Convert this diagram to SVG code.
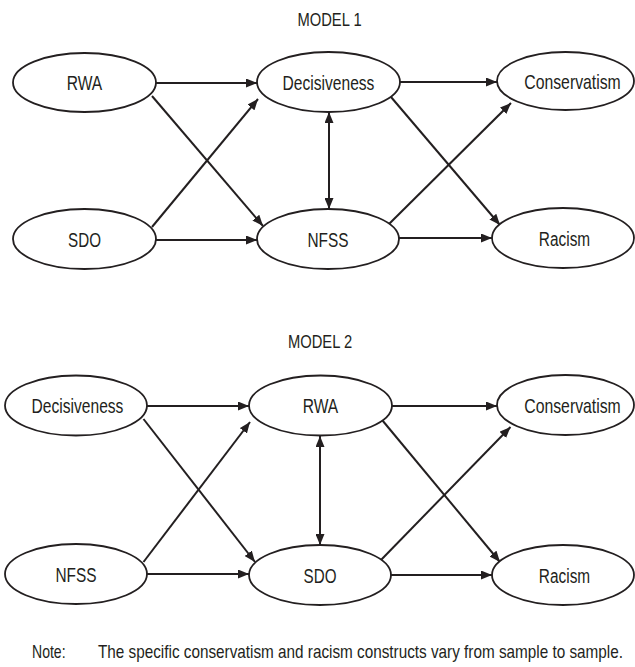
<svg xmlns="http://www.w3.org/2000/svg" width="635" height="667" viewBox="0 0 635 667">
<style>
.n ellipse{fill:#fff;stroke:#231f20;stroke-width:1.8}
text{font-family:"Liberation Sans",Arial,sans-serif;font-size:18px;fill:#231f20}
.n text{text-anchor:middle;font-size:20px}
.t{text-anchor:middle}
.c line{stroke:#231f20;stroke-width:2;marker-end:url(#ah)}
.c line.b{marker-start:url(#ah)}
</style>
<defs>
<marker id="ah" markerUnits="userSpaceOnUse" markerWidth="11" markerHeight="9" refX="11" refY="4.5" orient="auto-start-reverse" viewBox="0 0 11 9">
<path d="M0,0 L11,4.5 L0,9 z" fill="#231f20"/>
</marker>
</defs>
<rect width="635" height="667" fill="#fff"/>
<text class="t" transform="translate(329.5,26) scale(0.82,1)">MODEL 1</text>
<text class="t" transform="translate(320,348) scale(0.82,1)">MODEL 2</text>
<g class="c" id="connectors1">
<line x1="156" y1="83" x2="257" y2="83"/>
<line x1="400" y1="82" x2="497" y2="82"/>
<line x1="156" y1="240" x2="257" y2="240"/>
<line x1="399" y1="238" x2="492" y2="238"/>
<line x1="152" y1="96" x2="263" y2="226"/>
<line x1="152" y1="227" x2="258" y2="99"/>
<line x1="391" y1="97" x2="500" y2="225"/>
<line x1="388" y1="225" x2="511" y2="103"/>
<line class="b" x1="329" y1="112" x2="329" y2="209"/>
</g>
<g class="c" id="connectors2">
<line x1="147" y1="406" x2="249" y2="406"/>
<line x1="392" y1="406" x2="497" y2="406"/>
<line x1="147" y1="574" x2="249" y2="574"/>
<line x1="391" y1="575" x2="492" y2="575"/>
<line x1="143.5" y1="419" x2="255" y2="562"/>
<line x1="143.5" y1="562" x2="250" y2="422"/>
<line x1="382.5" y1="420.5" x2="500" y2="562"/>
<line x1="380" y1="561" x2="510.5" y2="427"/>
<line class="b" x1="320" y1="436" x2="320" y2="545"/>
</g>
<g class="n" id="m1-rwa"><ellipse cx="84.5" cy="82.5" rx="71.5" ry="29.5"/><text transform="translate(84.5,90) scale(0.78,1)">RWA</text></g>
<g class="n" id="m1-decisiveness"><ellipse cx="328.5" cy="82" rx="71.5" ry="30"/><text transform="translate(328.5,89.5) scale(0.78,1)">Decisiveness</text></g>
<g class="n" id="m1-conservatism"><ellipse cx="565.5" cy="81" rx="68.5" ry="29"/><text transform="translate(572.5,88.5) scale(0.79,1)">Conservatism</text></g>
<g class="n" id="m1-sdo"><ellipse cx="84.5" cy="239" rx="71.5" ry="30"/><text transform="translate(84.5,246.5) scale(0.76,1)">SDO</text></g>
<g class="n" id="m1-nfss"><ellipse cx="328" cy="239" rx="71" ry="30"/><text transform="translate(328,246.5) scale(0.77,1)">NFSS</text></g>
<g class="n" id="m1-racism"><ellipse cx="563" cy="238" rx="71" ry="30"/><text transform="translate(564.5,245.5) scale(0.77,1)">Racism</text></g>
<g class="n" id="m2-decisiveness"><ellipse cx="76" cy="405.5" rx="71" ry="30"/><text transform="translate(77.5,413) scale(0.78,1)">Decisiveness</text></g>
<g class="n" id="m2-rwa"><ellipse cx="320.5" cy="405.5" rx="71.5" ry="30"/><text transform="translate(320.5,413) scale(0.78,1)">RWA</text></g>
<g class="n" id="m2-conservatism"><ellipse cx="565.5" cy="405" rx="68.5" ry="30"/><text transform="translate(572.5,412.5) scale(0.79,1)">Conservatism</text></g>
<g class="n" id="m2-nfss"><ellipse cx="76" cy="574" rx="71" ry="30"/><text transform="translate(76,581.5) scale(0.77,1)">NFSS</text></g>
<g class="n" id="m2-sdo"><ellipse cx="320" cy="575" rx="71" ry="30"/><text transform="translate(320,582.5) scale(0.76,1)">SDO</text></g>
<g class="n" id="m2-racism"><ellipse cx="563" cy="575" rx="71" ry="30"/><text transform="translate(564.5,582.5) scale(0.77,1)">Racism</text></g>
<text transform="translate(32,658) scale(0.78,1)">Note:</text>
<text transform="translate(98,658) scale(0.85,1)">The specific conservatism and racism constructs vary from sample to sample.</text>
</svg>
